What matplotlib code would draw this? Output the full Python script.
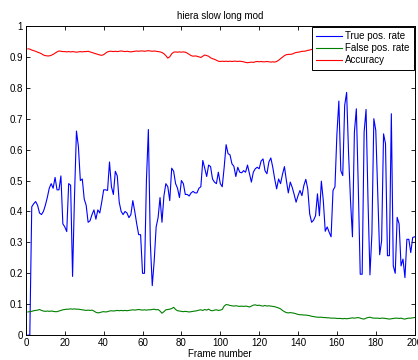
import numpy as np
import matplotlib
matplotlib.use("Agg")
import matplotlib.pyplot as plt

plt.rcParams['font.family'] = ['Liberation Sans', 'DejaVu Sans']

title = "hiera slow long mod"
xlabel = "Frame number"
labels = ["True pos. rate", "False pos. rate", "Accuracy"]
xticks = list(range(0, 201, 20))
yticks = [0, 0.1, 0.2, 0.3, 0.4, 0.5, 0.6, 0.7, 0.8, 0.9, 1]

# true positive rate, frames 1..200
tpr = [
    0.0, 0.0, 0.415, 0.425, 0.432, 0.42, 0.395, 0.39, 0.40, 0.42,
    0.445, 0.475, 0.49, 0.475, 0.51, 0.47, 0.47, 0.515, 0.36, 0.35,
    0.335, 0.49, 0.485, 0.19, 0.45, 0.66, 0.61, 0.50, 0.505, 0.44,
    0.42, 0.365, 0.37, 0.39, 0.405, 0.375, 0.405, 0.395, 0.43, 0.47,
    0.47, 0.468, 0.56, 0.48, 0.455, 0.53, 0.515, 0.43, 0.40, 0.39,
    0.40, 0.395, 0.38, 0.39, 0.435, 0.40, 0.36, 0.325, 0.325, 0.20,
    0.20, 0.50, 0.665, 0.30, 0.16, 0.24, 0.35, 0.38, 0.445, 0.365,
    0.45, 0.49, 0.48, 0.435, 0.54, 0.53, 0.49, 0.475, 0.445, 0.50,
    0.49, 0.455, 0.455, 0.45, 0.46, 0.465, 0.46, 0.46, 0.475, 0.48,
    0.565, 0.54, 0.513, 0.55, 0.545, 0.505, 0.495, 0.49, 0.527, 0.49,
    0.48, 0.543, 0.616, 0.587, 0.583, 0.554, 0.546, 0.513, 0.543, 0.527,
    0.525, 0.532, 0.527, 0.55, 0.522, 0.495, 0.527, 0.538, 0.543, 0.538,
    0.563, 0.57, 0.532, 0.522, 0.56, 0.573, 0.543, 0.505, 0.473, 0.505,
    0.49, 0.52, 0.545, 0.50, 0.46, 0.495, 0.478, 0.455, 0.43, 0.451,
    0.468, 0.451, 0.484, 0.504, 0.473, 0.392, 0.365, 0.372, 0.386, 0.457,
    0.386, 0.498, 0.435, 0.336, 0.35, 0.333, 0.318, 0.468, 0.48, 0.65,
    0.757, 0.532, 0.516, 0.743, 0.785, 0.587, 0.435, 0.318, 0.657, 0.732,
    0.478, 0.197, 0.197, 0.657, 0.73, 0.435, 0.195, 0.327, 0.70, 0.662,
    0.457, 0.26, 0.305, 0.651, 0.619, 0.257, 0.257, 0.716, 0.224, 0.2,
    0.381, 0.36, 0.224, 0.246, 0.186, 0.31, 0.31, 0.267, 0.316, 0.318,
]

# false positive rate
fpr = [
    0.075, 0.076, 0.077, 0.079, 0.080, 0.081, 0.083, 0.080, 0.078, 0.077,
    0.078, 0.077, 0.078, 0.077, 0.076, 0.076, 0.078, 0.080, 0.082, 0.083,
    0.084, 0.084, 0.085, 0.084, 0.085, 0.084, 0.084, 0.083, 0.082, 0.081,
    0.080, 0.081, 0.080, 0.081, 0.078, 0.074, 0.072, 0.073, 0.075, 0.076,
    0.075, 0.076, 0.078, 0.079, 0.078, 0.079, 0.080, 0.079, 0.080, 0.079,
    0.080, 0.079, 0.080, 0.081, 0.082, 0.081, 0.082, 0.083, 0.082, 0.081,
    0.082, 0.081, 0.082, 0.082, 0.083, 0.084, 0.082, 0.083, 0.078, 0.071,
    0.076, 0.082, 0.083, 0.084, 0.086, 0.090, 0.083, 0.079, 0.078, 0.077,
    0.076, 0.077, 0.076, 0.075, 0.076, 0.077, 0.078, 0.079, 0.081, 0.082,
    0.080, 0.083, 0.081, 0.084, 0.080, 0.079, 0.081, 0.082, 0.080, 0.081,
    0.083, 0.094, 0.099, 0.098, 0.096, 0.095, 0.094, 0.095, 0.094, 0.093,
    0.094, 0.093, 0.094, 0.093, 0.091, 0.094, 0.097, 0.098, 0.096, 0.097,
    0.095, 0.094, 0.096, 0.094, 0.095, 0.094, 0.093, 0.092, 0.090, 0.088,
    0.085, 0.080, 0.076, 0.073, 0.072, 0.073, 0.072, 0.071, 0.069, 0.067,
    0.066, 0.066, 0.065, 0.065, 0.064, 0.063, 0.061, 0.060, 0.059, 0.058,
    0.058, 0.058, 0.057, 0.057, 0.056, 0.056, 0.055, 0.055, 0.055, 0.054,
    0.054, 0.054, 0.053, 0.054, 0.053, 0.054, 0.055, 0.056, 0.055, 0.056,
    0.057, 0.055, 0.053, 0.052, 0.055, 0.057, 0.058, 0.056, 0.055, 0.055,
    0.055, 0.054, 0.055, 0.055, 0.054, 0.053, 0.052, 0.053, 0.054, 0.055,
    0.055, 0.054, 0.055, 0.053, 0.052, 0.054, 0.055, 0.055, 0.056, 0.057,
]

# accuracy
acc = [
    0.926, 0.925, 0.922, 0.920, 0.918, 0.915, 0.913, 0.910, 0.906, 0.904,
    0.903, 0.903, 0.905, 0.908, 0.912, 0.916, 0.919, 0.918, 0.917, 0.917,
    0.916, 0.917, 0.916, 0.917, 0.916, 0.915, 0.916, 0.917, 0.916, 0.917,
    0.917, 0.918, 0.916, 0.914, 0.912, 0.910, 0.908, 0.906, 0.905, 0.907,
    0.912, 0.916, 0.918, 0.918, 0.917, 0.918, 0.917, 0.918, 0.919, 0.918,
    0.917, 0.918, 0.917, 0.916, 0.917, 0.918, 0.919, 0.918, 0.919, 0.919,
    0.918, 0.919, 0.920, 0.919, 0.918, 0.919, 0.918, 0.917, 0.916, 0.914,
    0.910, 0.904, 0.896, 0.900, 0.910, 0.915, 0.916, 0.915, 0.916, 0.915,
    0.916, 0.915, 0.912, 0.908, 0.904, 0.902, 0.903, 0.902, 0.900, 0.898,
    0.902, 0.906, 0.904, 0.902, 0.897, 0.894, 0.892, 0.889, 0.886, 0.885,
    0.886, 0.885, 0.886, 0.885, 0.886, 0.885, 0.886, 0.886, 0.885, 0.886,
    0.885, 0.884, 0.882, 0.881, 0.882, 0.883, 0.882, 0.884, 0.885, 0.884,
    0.885, 0.884, 0.884, 0.885, 0.884, 0.883, 0.884, 0.883, 0.885, 0.889,
    0.894, 0.899, 0.904, 0.907, 0.908, 0.908, 0.909, 0.912, 0.914, 0.915,
    0.916, 0.918, 0.918, 0.919, 0.921, 0.922, 0.924, 0.925, 0.927, 0.928,
    0.929, 0.930, 0.930, 0.931, 0.930, 0.931, 0.932, 0.931, 0.932, 0.933,
    0.932, 0.933, 0.934, 0.933, 0.934, 0.935, 0.934, 0.935, 0.936, 0.935,
    0.936, 0.937, 0.936, 0.937, 0.938, 0.937, 0.938, 0.939, 0.938, 0.939,
    0.940, 0.939, 0.940, 0.939, 0.940, 0.941, 0.940, 0.941, 0.940, 0.941,
    0.941, 0.940, 0.941, 0.942, 0.941, 0.941, 0.942, 0.941, 0.941, 0.942,
]

frames = np.arange(1, len(tpr) + 1)

fig = plt.figure(figsize=(4.18, 3.6), dpi=100)
ax = fig.add_axes([0.062, 0.069, 0.930, 0.859])

ax.plot(frames, tpr, color=(0, 0, 1), lw=0.8, label=labels[0])
ax.plot(frames, fpr, color=(0, 0.5, 0), lw=0.8, label=labels[1])
ax.plot(frames, acc, color=(1, 0, 0), lw=0.8, label=labels[2])

ax.set_xlim(0, 200)
ax.set_ylim(0, 1)
ax.set_xticks(xticks)
ax.set_yticks(yticks)
ax.set_yticklabels(["0", "0.1", "0.2", "0.3", "0.4", "0.5", "0.6", "0.7", "0.8", "0.9", "1"])
ax.tick_params(direction='in', top=True, right=True, labelsize=7, length=3, width=0.6, pad=2)
for s in ax.spines.values():
    s.set_linewidth(0.7)

ax.set_title(title, fontsize=7, pad=5)
ax.set_xlabel(xlabel, fontsize=7, labelpad=1)

leg = ax.legend(loc='upper right', fontsize=7, frameon=True, fancybox=False,
                borderpad=0.45, labelspacing=0.2, handlelength=2.6, handletextpad=0.35,
                borderaxespad=0.1)
leg.get_frame().set_edgecolor('black')
leg.get_frame().set_linewidth(0.7)
leg.get_frame().set_alpha(1)

fig.savefig("out.png", dpi=100)
